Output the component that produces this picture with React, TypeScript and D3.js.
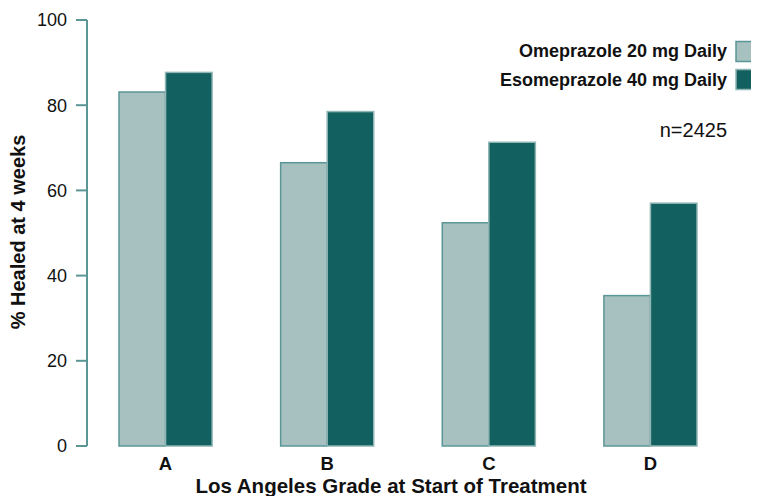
import React from "react";
import * as d3 from "d3";

const categories = ["A", "B", "C", "D"];
const seriesNames = ["Omeprazole 20 mg Daily", "Esomeprazole 40 mg Daily"];
const omeprazole = [83.1, 66.5, 52.4, 35.3];
const esomeprazole = [87.7, 78.5, 71.3, 57.0];
const yTicks = [0, 20, 40, 60, 80, 100];
const noteText = "n=2425";
const xTitle = "Los Angeles Grade at Start of Treatment";
const yTitle = "% Healed at 4 weeks";

const W = 759;
const H = 504;
const FONT = "'Liberation Sans', Arial, Helvetica, sans-serif";
const LIGHT = "#a7c1c1";
const DARK = "#12605f";
const AXIS = "#5b9696";

export default function App() {
  const x = d3
    .scaleBand<string>()
    .domain(categories)
    .range([87, 729])
    .paddingInner(0.424)
    .paddingOuter(0.198);
  const y = d3.scaleLinear().domain([0, 100]).range([446, 20]);
  const bw = x.bandwidth() / 2;
  const series = [omeprazole, esomeprazole];
  const fills = [LIGHT, DARK];
  const strokes = [AXIS, "#8fb5b5"];

  return (
    <div style={{ margin: -8 }}>
      <svg width={W} height={H} style={{ display: "block", fontFamily: FONT }}>
        <rect width={W} height={H} fill="#fff" />
        {/* y axis */}
        <line x1={87} x2={87} y1={y(100)} y2={y(0)} stroke={AXIS} strokeWidth={2} />
        {yTicks.map((t) => (
          <g key={t}>
            <line x1={76} x2={87} y1={y(t)} y2={y(t)} stroke={AXIS} strokeWidth={2} />
            <text x={67} y={y(t)} dy="0.36em" textAnchor="end" fontSize={18} fill="#111">
              {t}
            </text>
          </g>
        ))}
        {/* bars */}
        {categories.map((c, i) =>
          series.map((s, k) => (
            <rect
              key={c + k}
              x={(x(c) as number) + k * bw}
              y={y(s[i])}
              width={bw}
              height={y(0) - y(s[i])}
              fill={fills[k]}
              stroke={strokes[k]}
              strokeWidth={1.5}
            />
          ))
        )}
        {/* x labels */}
        {categories.map((c) => (
          <text
            key={c}
            x={(x(c) as number) + x.bandwidth() / 2}
            y={469.5}
            textAnchor="middle"
            fontSize={18.5}
            fontWeight="bold"
            fill="#111"
          >
            {c}
          </text>
        ))}
        <text x={391} y={493} textAnchor="middle" fontSize={20.5} fontWeight="bold" fill="#111">
          {xTitle}
        </text>
        <text
          transform={`translate(25,232) rotate(-90)`}
          textAnchor="middle"
          fontSize={20}
          fontWeight="bold"
          fill="#111"
        >
          {yTitle}
        </text>
        {/* legend */}
        {seriesNames.map((n, k) => (
          <g key={n}>
            <text x={727} y={57.3 + k * 28.4} textAnchor="end" fontSize={18} fontWeight="bold" fill="#111">
              {n}
            </text>
            <rect
              x={736}
              y={41.5 + k * 28}
              width={21}
              height={20}
              fill={fills[k]}
              stroke={strokes[k]}
              strokeWidth={1.5}
            />
          </g>
        ))}
        <text x={727} y={136.7} textAnchor="end" fontSize={20} fill="#111">
          {noteText}
        </text>
      </svg>
    </div>
  );
}
